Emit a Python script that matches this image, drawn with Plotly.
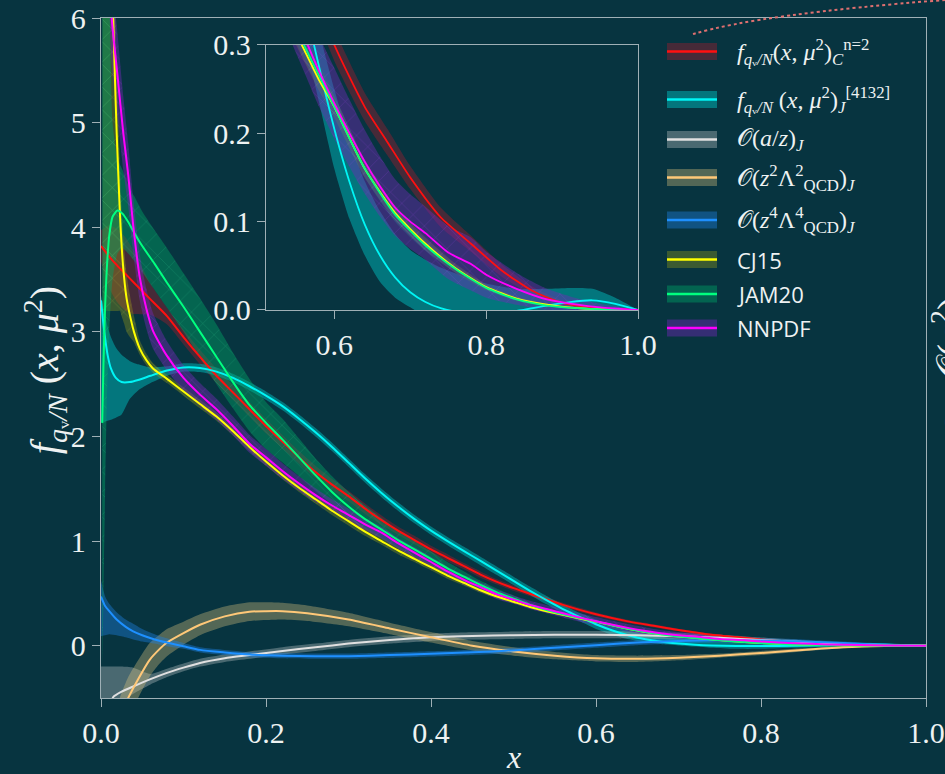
import plotly.graph_objects as go

# ---------------- data ----------------
X_RED = [0.0, 0.01, 0.02, 0.03, 0.04, 0.06, 0.08, 0.10, 0.12, 0.14, 0.16, 0.18, 0.20, 0.22, 0.24, 0.26, 0.28, 0.30, 0.32, 0.34,
         0.36, 0.38, 0.40, 0.42, 0.44, 0.46, 0.48, 0.50, 0.53, 0.56, 0.60, 0.64, 0.67, 0.70, 0.74, 0.78, 0.82, 0.86, 0.90, 0.95, 1.0]
Y_RED = [3.82, 3.72, 3.63, 3.55, 3.47, 3.31, 3.15, 2.95, 2.76, 2.58, 2.42, 2.26, 2.10, 1.95, 1.80, 1.66, 1.54, 1.43, 1.31, 1.20,
         1.10, 1.01, 0.92, 0.84, 0.76, 0.68, 0.61, 0.55, 0.47, 0.39, 0.30, 0.23, 0.19, 0.15, 0.105, 0.075, 0.045, 0.022, 0.008, 0.002, 0.0]
ERR_RED = [0.15, 0.3, 0.35, 0.35, 0.3, 0.15, 0.08, 0.07, 0.07, 0.07, 0.07, 0.07, 0.07, 0.065, 0.06, 0.06, 0.055, 0.05, 0.05, 0.045,
           0.04, 0.04, 0.035, 0.035, 0.03, 0.03, 0.025, 0.025, 0.022, 0.02, 0.018, 0.016, 0.015, 0.013, 0.011, 0.009, 0.007, 0.005, 0.003, 0.001, 0.0]

X_CY = [0.0, 0.004, 0.008, 0.012, 0.018, 0.025, 0.035, 0.045, 0.06, 0.08, 0.10, 0.12, 0.14, 0.16, 0.18, 0.20, 0.22, 0.24, 0.26, 0.28,
        0.30, 0.32, 0.34, 0.36, 0.38, 0.40, 0.42, 0.44, 0.46, 0.48, 0.50, 0.52, 0.54, 0.56, 0.58, 0.60, 0.62, 0.64, 0.66, 0.68,
        0.70, 0.72, 0.74, 0.77, 0.80, 0.84, 0.88, 0.91, 0.94, 0.97, 1.0]
Y_CY = [3.3, 3.0, 2.78, 2.65, 2.56, 2.52, 2.52, 2.54, 2.58, 2.63, 2.66, 2.655, 2.62, 2.56, 2.48, 2.39, 2.29, 2.17, 2.04, 1.9,
        1.75, 1.6, 1.46, 1.33, 1.21, 1.1, 1.0, 0.905, 0.81, 0.715, 0.62, 0.525, 0.435, 0.35, 0.275, 0.205, 0.145, 0.097, 0.062, 0.037,
        0.02, 0.009, 0.002, -0.003, -0.004, -0.001, 0.005, 0.009, 0.011, 0.007, 0.0]
LO_CY = [2.13, 2.14, 2.15, 2.16, 2.18, 2.21, 2.36, 2.44, 2.51, 2.58, 2.62, 2.615, 2.58, 2.52, 2.44, 2.35, 2.25, 2.13, 2.0, 1.86,
         1.71, 1.56, 1.42, 1.29, 1.17, 1.06, 0.96, 0.865, 0.77, 0.675, 0.58, 0.485, 0.395, 0.31, 0.235, 0.16, 0.103, 0.062, 0.032, 0.014,
         0.003, -0.008, -0.02, -0.03, -0.03, -0.02, -0.01, -0.006, -0.004, -0.003, 0.0]
HI_CY = [3.35, 3.2, 3.05, 2.95, 2.85, 2.78, 2.72, 2.69, 2.66, 2.67, 2.70, 2.695, 2.66, 2.6, 2.52, 2.43, 2.33, 2.21, 2.08, 1.94,
         1.79, 1.64, 1.5, 1.37, 1.25, 1.14, 1.04, 0.945, 0.85, 0.755, 0.66, 0.565, 0.475, 0.39, 0.315, 0.25, 0.192, 0.146, 0.112, 0.086,
         0.068, 0.057, 0.048, 0.038, 0.03, 0.024, 0.024, 0.025, 0.024, 0.014, 0.0]

X_GR = [0.0, 0.005, 0.01, 0.015, 0.025, 0.039, 0.06, 0.08, 0.10, 0.12, 0.15, 0.18, 0.22, 0.26, 0.30, 0.35, 0.40, 0.45, 0.50, 0.55,
        0.60, 0.65, 0.70, 0.75, 0.80, 0.85, 0.90, 0.95, 1.0]
Y_GR = [-1.2, -0.8, -0.6, -0.49, -0.44, -0.39, -0.32, -0.26, -0.21, -0.165, -0.12, -0.09, -0.05, -0.015, 0.02, 0.055, 0.08, 0.093, 0.1, 0.105,
        0.105, 0.1, 0.09, 0.075, 0.055, 0.035, 0.017, 0.005, 0.0]
LO_GR = [-1.6, -1.2, -0.9, -0.7, -0.55, -0.46, -0.37, -0.3, -0.245, -0.2, -0.155, -0.125, -0.085, -0.05, -0.015, 0.02, 0.045, 0.058, 0.065, 0.07,
         0.07, 0.066, 0.058, 0.046, 0.032, 0.018, 0.007, 0.001, 0.0]
HI_GR = [-0.2, -0.2, -0.2, -0.2, -0.2, -0.21, -0.27, -0.22, -0.17, -0.125, -0.085, -0.055, -0.015, 0.02, 0.055, 0.09, 0.115, 0.128, 0.135, 0.14,
         0.14, 0.134, 0.122, 0.104, 0.078, 0.052, 0.027, 0.009, 0.0]

X_OR = [0.015, 0.025, 0.033, 0.045, 0.059, 0.07, 0.08, 0.10, 0.12, 0.15, 0.18, 0.20, 0.22, 0.25, 0.30, 0.35, 0.40, 0.45, 0.50, 0.55,
        0.60, 0.65, 0.70, 0.75, 0.80, 0.85, 0.90, 0.95, 1.0]
Y_OR = [-0.9, -0.66, -0.5, -0.32, -0.135, -0.04, 0.03, 0.12, 0.2, 0.28, 0.325, 0.33, 0.33, 0.31, 0.25, 0.165, 0.08, 0.0, -0.055, -0.095,
        -0.12, -0.125, -0.115, -0.095, -0.07, -0.04, -0.015, -0.003, 0.0]
ERR_OR = [0.22, 0.21, 0.2, 0.18, 0.16, 0.14, 0.13, 0.11, 0.1, 0.095, 0.09, 0.085, 0.08, 0.075, 0.065, 0.055, 0.05, 0.045, 0.04, 0.035,
          0.03, 0.03, 0.025, 0.02, 0.02, 0.015, 0.01, 0.005, 0.0]

X_BL = [0.0, 0.005, 0.01, 0.019, 0.03, 0.039, 0.05, 0.065, 0.08, 0.10, 0.12, 0.15, 0.18, 0.22, 0.26, 0.30, 0.35, 0.40, 0.45, 0.50,
        0.55, 0.60, 0.65, 0.70, 0.75, 0.80, 0.85, 0.90, 0.95, 1.0]
Y_BL = [0.47, 0.38, 0.33, 0.25, 0.18, 0.137, 0.1, 0.06, 0.03, -0.005, -0.04, -0.065, -0.085, -0.095, -0.1, -0.1, -0.09, -0.078, -0.063, -0.045,
        -0.02, 0.005, 0.03, 0.045, 0.055, 0.05, 0.04, 0.025, 0.01, 0.0]
LO_BL = [0.09, 0.1, 0.11, 0.1, 0.08, 0.06, 0.04, 0.02, -0.005, -0.03, -0.065, -0.09, -0.11, -0.12, -0.125, -0.125, -0.115, -0.103, -0.088, -0.07,
         -0.045, -0.02, 0.005, 0.02, 0.03, 0.027, 0.02, 0.01, 0.0, 0.0]
HI_BL = [0.62, 0.47, 0.4, 0.32, 0.25, 0.21, 0.16, 0.11, 0.07, 0.025, -0.015, -0.04, -0.06, -0.07, -0.075, -0.075, -0.065, -0.053, -0.038, -0.02,
         0.005, 0.03, 0.055, 0.07, 0.08, 0.073, 0.06, 0.04, 0.02, 0.0]

X_CJ = [0.002, 0.006, 0.009, 0.012, 0.0148, 0.017, 0.019, 0.021, 0.023, 0.025, 0.028, 0.031, 0.035, 0.04, 0.047, 0.055, 0.063, 0.08, 0.10, 0.12,
        0.14, 0.16, 0.18, 0.20, 0.22, 0.24, 0.26, 0.28, 0.30, 0.32, 0.34, 0.36, 0.38, 0.40, 0.42, 0.44, 0.46, 0.48, 0.50, 0.52,
        0.54, 0.56, 0.58, 0.60, 0.64, 0.68, 0.72, 0.76, 0.80, 0.84, 0.88, 0.92, 0.96, 1.0]
Y_CJ = [16.0, 10.0, 8.3, 7.0, 6.0, 5.4, 4.9, 4.5, 4.12, 3.82, 3.52, 3.32, 3.16, 3.0, 2.84, 2.73, 2.65, 2.55, 2.43, 2.31,
        2.19, 2.05, 1.9, 1.76, 1.63, 1.51, 1.4, 1.29, 1.19, 1.09, 1.0, 0.91, 0.83, 0.75, 0.67, 0.6, 0.53, 0.47, 0.42, 0.37,
        0.33, 0.295, 0.26, 0.23, 0.16, 0.11, 0.075, 0.047, 0.026, 0.013, 0.006, 0.002, 0.0005, 0.0]
LO_CJ = [3.1, 3.2, 3.2, 3.2, 3.2, 3.2, 3.2, 3.2, 3.2, 3.15, 3.08, 3.0, 2.95, 2.9, 2.78, 2.68, 2.61, 2.51, 2.39, 2.27,
         2.15, 2.01, 1.86, 1.72, 1.59, 1.47, 1.36, 1.25, 1.15, 1.05, 0.965, 0.875, 0.8, 0.72, 0.64, 0.575, 0.505, 0.45, 0.405, 0.357,
         0.317, 0.282, 0.248, 0.218, 0.15, 0.102, 0.068, 0.042, 0.023, 0.011, 0.005, 0.0015, 0.0003, 0.0]
HI_CJ = [20.0, 12.0, 10.0, 8.5, 7.0, 6.2, 5.6, 5.1, 4.6, 4.2, 3.8, 3.55, 3.35, 3.15, 2.92, 2.79, 2.7, 2.59, 2.47, 2.35,
         2.23, 2.09, 1.94, 1.8, 1.67, 1.55, 1.44, 1.33, 1.23, 1.13, 1.035, 0.945, 0.86, 0.78, 0.7, 0.625, 0.555, 0.49, 0.435, 0.383,
         0.343, 0.308, 0.272, 0.242, 0.17, 0.118, 0.082, 0.052, 0.029, 0.015, 0.007, 0.0025, 0.0007, 0.0]

X_JAM = [0.0015, 0.003, 0.005, 0.007, 0.01, 0.014, 0.02, 0.026, 0.033, 0.04, 0.05, 0.065, 0.08, 0.10, 0.12, 0.14, 0.16, 0.18, 0.20, 0.22,
         0.24, 0.26, 0.28, 0.30, 0.32, 0.34, 0.36, 0.38, 0.40, 0.42, 0.44, 0.46, 0.48, 0.50, 0.52, 0.54, 0.56, 0.58, 0.60, 0.64,
         0.68, 0.72, 0.76, 0.80, 0.84, 0.88, 0.92, 0.96, 1.0]
Y_JAM = [2.13, 2.7, 3.25, 3.6, 3.92, 4.1, 4.16, 4.13, 4.05, 3.95, 3.82, 3.65, 3.47, 3.24, 3.0, 2.76, 2.52, 2.3, 2.13, 1.97,
         1.8, 1.63, 1.47, 1.33, 1.21, 1.11, 1.01, 0.92, 0.83, 0.74, 0.66, 0.58, 0.51, 0.45, 0.39, 0.34, 0.30, 0.265, 0.23, 0.16,
         0.108, 0.073, 0.046, 0.025, 0.012, 0.005, 0.002, 0.0005, 0.0]
LO_JAM = [-0.2, 0.5, 1.5, 2.3, 3.0, 3.5, 3.75, 3.8, 3.75, 3.68, 3.57, 3.4, 3.23, 3.0, 2.75, 2.5, 2.27, 2.05, 1.88, 1.75,
          1.62, 1.48, 1.35, 1.22, 1.12, 1.03, 0.94, 0.86, 0.78, 0.69, 0.61, 0.54, 0.475, 0.42, 0.37, 0.322, 0.284, 0.25, 0.217, 0.15,
          0.1, 0.067, 0.042, 0.022, 0.01, 0.004, 0.0015, 0.0003, 0.0]
HI_JAM = [8.0, 8.0, 8.0, 8.0, 6.5, 5.0, 4.65, 4.55, 4.4, 4.3, 4.15, 3.97, 3.8, 3.56, 3.32, 3.07, 2.8, 2.55, 2.33, 2.17,
          1.98, 1.79, 1.62, 1.47, 1.34, 1.22, 1.1, 1.0, 0.9, 0.8, 0.71, 0.62, 0.545, 0.48, 0.41, 0.358, 0.316, 0.28, 0.243, 0.17,
          0.116, 0.079, 0.05, 0.028, 0.014, 0.006, 0.0025, 0.0007, 0.0]

X_NN = [0.006, 0.009, 0.013, 0.02, 0.027, 0.033, 0.039, 0.047, 0.055, 0.063, 0.08, 0.10, 0.12, 0.14, 0.16, 0.18, 0.20, 0.22, 0.24, 0.26,
        0.28, 0.30, 0.32, 0.34, 0.36, 0.38, 0.40, 0.42, 0.44, 0.46, 0.48, 0.50, 0.52, 0.54, 0.56, 0.58, 0.60, 0.62, 0.64, 0.66,
        0.68, 0.70, 0.72, 0.75, 0.78, 0.80, 0.84, 0.88, 0.92, 0.95, 1.0]
Y_NN = [8.0, 6.9, 6.0, 5.45, 4.9, 4.5, 4.02, 3.52, 3.22, 3.01, 2.77, 2.56, 2.4, 2.26, 2.1, 1.93, 1.8, 1.67, 1.55, 1.44,
        1.34, 1.25, 1.16, 1.08, 0.98, 0.89, 0.8, 0.71, 0.63, 0.56, 0.49, 0.44, 0.39, 0.35, 0.31, 0.27, 0.234, 0.2, 0.168, 0.14,
        0.116, 0.1, 0.087, 0.065, 0.052, 0.04, 0.024, 0.012, 0.006, 0.003, 0.0]
ERR_NN = [0.6, 0.5, 0.45, 0.4, 0.35, 0.3, 0.26, 0.22, 0.19, 0.17, 0.14, 0.12, 0.11, 0.1, 0.09, 0.085, 0.08, 0.075, 0.07, 0.065,
          0.06, 0.06, 0.055, 0.055, 0.05, 0.05, 0.05, 0.045, 0.045, 0.045, 0.045, 0.04, 0.04, 0.04, 0.04, 0.04, 0.04, 0.038, 0.036, 0.034,
          0.032, 0.031, 0.03, 0.03, 0.03, 0.026, 0.018, 0.012, 0.007, 0.004, 0.0]

LABELS = [
    "<i>f</i><sub><i>q</i>ᵥ<i>/N</i></sub>(<i>x</i>, <i>μ</i><sup>2</sup>)<sub><i>C</i></sub><sup>n=2</sup>",
    "<i>f</i><sub><i>q</i>ᵥ<i>/N</i></sub> (<i>x</i>, <i>μ</i><sup>2</sup>)<sub><i>J</i></sub><sup>[4132]</sup>",
    "𝒪(<i>a</i>/<i>z</i>)<sub><i>J</i></sub>",
    "𝒪(<i>z</i><sup>2</sup>Λ<sup>2</sup><sub>QCD</sub>)<sub><i>J</i></sub>",
    "𝒪(<i>z</i><sup>4</sup>Λ<sup>4</sup><sub>QCD</sub>)<sub><i>J</i></sub>",
    "CJ15", "JAM20", "NNPDF",
]
X_TICKS = [0.0, 0.2, 0.4, 0.6, 0.8, 1.0]
Y_TICKS = [0, 1, 2, 3, 4, 5, 6]
XI_TICKS = [0.6, 0.8, 1.0]
YI_TICKS = [0.0, 0.1, 0.2, 0.3]

# ---------------- styling ----------------
BG = "#073440"
AX = "#9fb0b6"
TXT = "#eef2f2"
SERIF = "Liberation Serif, DejaVu Serif, serif"
SANS = "Open Sans, DejaVu Sans, sans-serif"


def lohi(y, e):
    return [a - b for a, b in zip(y, e)], [a + b for a, b in zip(y, e)]


LO_RED, HI_RED = lohi(Y_RED, ERR_RED)
LO_OR, HI_OR = lohi(Y_OR, ERR_OR)
LO_NN, HI_NN = lohi(Y_NN, ERR_NN)

SERIES = [
    # x, y, lo, hi, line color, band color, hatch color, shown in inset
    (X_RED, Y_RED, LO_RED, HI_RED, "#ff1010", "rgba(220,20,40,0.30)", None, True),
    (X_CY, Y_CY, LO_CY, HI_CY, "#00f5f5", "rgba(0,200,200,0.45)", None, True),
    (X_GR, Y_GR, LO_GR, HI_GR, "#e0e0e0", "rgba(200,205,205,0.35)", None, False),
    (X_OR, Y_OR, LO_OR, HI_OR, "#ffc878", "rgba(225,200,130,0.35)", None, False),
    (X_BL, Y_BL, LO_BL, HI_BL, "#1e90ff", "rgba(30,130,230,0.40)", None, False),
    (X_CJ, Y_CJ, LO_CJ, HI_CJ, "#ffff00", "rgba(170,170,20,0.32)", "rgba(210,210,60,0.6)", True),
    (X_JAM, Y_JAM, LO_JAM, HI_JAM, "#00ff7f", "rgba(0,160,100,0.45)", "rgba(60,220,150,0.6)", True),
    (X_NN, Y_NN, LO_NN, HI_NN, "#ff00ff", "rgba(110,40,180,0.45)", "rgba(160,70,230,0.7)", True),
]

fig = go.Figure()


def add_all(xa, ya, lw, inset):
    chosen = [s for s in SERIES if (s[7] or not inset)]
    for (x, y, lo, hi, lc, bc, hc, _) in chosen:
        fig.add_trace(go.Scatter(x=x, y=lo, mode="lines", line=dict(width=0, shape="spline", smoothing=0.6),
                                 hoverinfo="skip", showlegend=False, xaxis=xa, yaxis=ya))
        kw = {}
        if hc:
            kw["fillpattern"] = dict(shape="x", size=16, solidity=0.06, fgcolor=hc, bgcolor=bc, fgopacity=0.5)
        fig.add_trace(go.Scatter(x=x, y=hi, mode="lines", line=dict(width=0, shape="spline", smoothing=0.6),
                                 fill="tonexty", fillcolor=bc, hoverinfo="skip", showlegend=False,
                                 xaxis=xa, yaxis=ya, **kw))
    for (x, y, lo, hi, lc, bc, hc, _) in chosen:
        fig.add_trace(go.Scatter(x=x, y=y, mode="lines", line=dict(width=lw, color=lc, shape="spline", smoothing=0.6),
                                 showlegend=False, xaxis=xa, yaxis=ya))


add_all("x", "y", 2.0, False)
add_all("x2", "y2", 1.8, True)

axis_common = dict(showline=True, linecolor=AX, linewidth=1.3, mirror=True, ticks="outside", ticklen=8,
                   tickwidth=1.2, tickcolor=AX, showgrid=False, zeroline=False,
                   tickfont=dict(family=SERIF, size=30, color=TXT))

fig.update_layout(
    width=945, height=774,
    margin=dict(l=101, r=19, t=18, b=76, autoexpand=False),
    paper_bgcolor=BG, plot_bgcolor=BG,
    showlegend=False,
    xaxis=dict(domain=[0, 1], range=[0, 1], tickvals=X_TICKS, ticktext=[f"{v:.1f}" for v in X_TICKS], **axis_common),
    yaxis=dict(domain=[0, 1], range=[-0.5, 6], tickvals=Y_TICKS, ticktext=[str(v) for v in Y_TICKS], **axis_common),
    xaxis2=dict(domain=[0.2, 0.651], anchor="y2", range=[0.51, 1.0], tickvals=XI_TICKS,
                ticktext=[f"{v:.1f}" for v in XI_TICKS], **axis_common),
    yaxis2=dict(domain=[0.5706, 0.9603], anchor="x2", range=[0, 0.3], tickvals=YI_TICKS,
                ticktext=[f"{v:.1f}" for v in YI_TICKS], **axis_common),
)

# axis titles
fig.add_annotation(xref="paper", yref="paper", x=-0.068, y=0.482, xanchor="center", yanchor="middle",
                   showarrow=False, textangle=-90,
                   text="<i>f</i><sub><i>q</i>ᵥ<i>/N</i></sub> (<i>x</i>, <i>μ</i><sup>2</sup>)",
                   font=dict(family=SERIF, size=40, color=TXT))
fig.add_annotation(xref="paper", yref="paper", x=0.5, y=-0.0868, xanchor="center", yanchor="middle",
                   showarrow=False, text="<i>x</i>", font=dict(family=SERIF, size=32, color=TXT))

# custom legend (band swatch + line + label)
LEG_Y = [51.5, 99.5, 139.5, 177.5, 220, 259.5, 294, 328]
for (s, lab, py) in zip(SERIES, LABELS, LEG_Y):
    lc, bc = s[4], s[5]
    yc = (698 - py) / 680
    h = 8.5 / 680
    x0, x1 = (667 - 101) / 825, (717 - 101) / 825
    fig.add_shape(type="rect", xref="paper", yref="paper", x0=x0, x1=x1, y0=yc - h, y1=yc + h,
                  fillcolor=bc, line=dict(width=0))
    fig.add_shape(type="line", xref="paper", yref="paper", x0=x0, x1=x1, y0=yc, y1=yc,
                  line=dict(color=lc, width=2.5))
    is_math = lab not in ("CJ15", "JAM20", "NNPDF")
    fig.add_annotation(xref="paper", yref="paper", x=(735 - 101) / 825, y=yc, xanchor="left", yanchor="middle",
                       showarrow=False, text=lab,
                       font=dict(family=SERIF if is_math else SANS, size=24 if is_math else 22, color=TXT))

# cropped neighbour-panel remnants
fig.add_shape(type="path", xref="paper", yref="paper",
              path="M 0.7176 0.9765 Q 0.80 1.006 1.023 1.0265",
              line=dict(color="#e07070", width=2, dash="dot"))
fig.add_annotation(xref="paper", yref="paper", x=(922 - 101) / 825, y=0.49, xanchor="left", yanchor="middle",
                   showarrow=False, textangle=-90,
                   text="<b>a</b>   𝒪(<i>a</i><sup>2</sup>)", font=dict(family=SERIF, size=40, color=TXT))

fig.write_html("out.html")
